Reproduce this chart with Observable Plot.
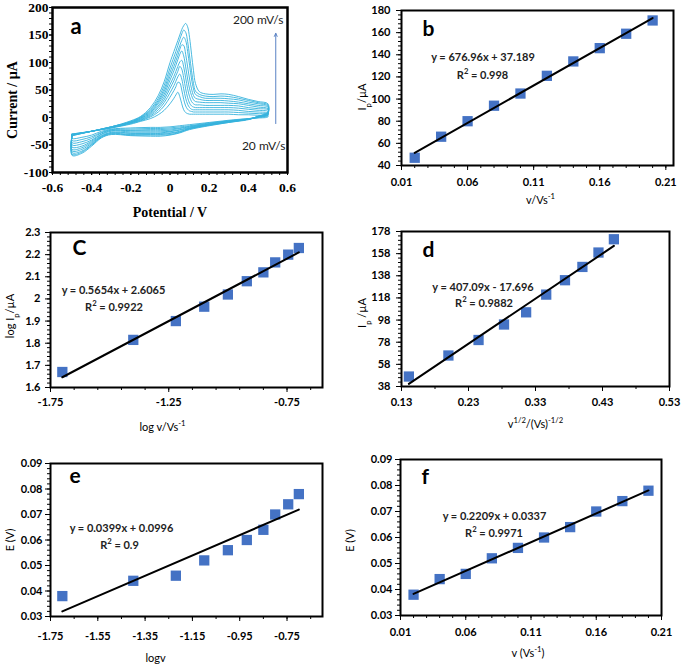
<!DOCTYPE html>
<html><head><meta charset="utf-8">
<script src="https://cdn.jsdelivr.net/npm/d3@7"></script>
<script src="https://cdn.jsdelivr.net/npm/@observablehq/plot@0.6"></script>
<style>
body{margin:0;background:#fff}
#wrap{position:relative;width:685px;height:668px;overflow:hidden;background:#fff}
</style></head><body><div id="wrap"></div>
<script>
// ---------- data ----------
const scanRate = [0.02,0.04,0.06,0.08,0.10,0.12,0.14,0.16,0.18,0.20];
const logScanRate = [-1.70,-1.40,-1.22,-1.10,-1.00,-0.92,-0.85,-0.80,-0.745,-0.70];
const sqrtScanRate = [0.141,0.200,0.245,0.283,0.316,0.346,0.374,0.400,0.424,0.447];
const peakCurrent = [47,66,80,94,105,121,134,146,159,171];
const logPeakCurrent = [1.67,1.815,1.90,1.965,2.02,2.08,2.12,2.165,2.20,2.23];
const peakPotential = [0.038,0.044,0.046,0.052,0.056,0.060,0.064,0.070,0.074,0.078];

const cvForwardE = [-0.5,-0.4,-0.3,-0.2,-0.15,-0.1,-0.06,-0.03,0,0.02,0.03,0.04,0.05,0.06,0.07,0.08,0.09,0.1,0.11,0.12,0.13,0.15,0.18,0.22,0.26,0.3,0.35,0.4,0.45,0.5];
const cvForwardI = [
  [-30,-25,-19,-12,-7,-2,5,13,25,35,41,46,38,25,14,9,7,6,6,6,6,6,6,6,6,6,5,5,4,3],
  [-30,-25,-19,-11,-6,1,10,21,37,49,56,64,63,50,33,21,15,12,11,10,10,10,10,10,10,10,9,8,7,6],
  [-31,-25,-18,-10,-5,3,14,27,45,58,66,74,79,70,52,35,24,18,15,14,14,14,14,14,14,14,13,11,10,8],
  [-31,-25,-18,-10,-4,5,18,32,53,67,76,84,93,88,72,52,36,26,21,19,18,18,18,18,18,18,17,15,13,11],
  [-31,-25,-18,-9,-3,7,21,37,60,75,84,93,101,104,92,72,52,38,29,25,23,23,22,22,22,22,21,18,16,14],
  [-32,-25,-18,-9,-2,9,25,42,68,85,95,105,115,121,112,92,70,52,40,32,29,28,27,27,27,26,25,22,19,16],
  [-32,-25,-17,-8,-1,11,28,47,75,93,103,113,124,132,131,115,92,70,52,40,35,33,31,31,31,30,28,25,22,19],
  [-32,-25,-17,-8,0,13,31,52,82,101,111,121,131,140,146,140,120,95,70,52,42,38,35,35,35,34,32,28,25,21],
  [-33,-25,-17,-7,1,15,35,58,90,110,120,131,142,152,159,155,138,112,85,62,48,42,39,38,39,38,35,31,27,23],
  [-33,-25,-17,-6,2,18,40,65,100,120,130,140,150,160,167,171,165,145,115,85,62,47,43,42,43,42,38,33,29,25]
];
const cvReverseE = [0.5,0.45,0.4,0.3,0.2,0.1,0.05,0,-0.05,-0.1,-0.2,-0.3,-0.35,-0.4,-0.45,-0.5];
const cvReverseI = [
  [1,-1,-2,-5,-9,-13,-15,-17,-18,-18,-19,-21,-25,-32,-36,-38],
  [3,0,-2,-6,-10,-15,-17,-19,-20,-20,-21,-22,-27,-35,-40,-42],
  [4,0,-3,-6,-11,-16,-19,-21,-22,-22,-23,-23,-28,-38,-44,-46],
  [5,1,-3,-7,-12,-17,-20,-23,-24,-24,-24,-24,-30,-41,-48,-50],
  [6,1,-3,-7,-12,-18,-22,-25,-26,-26,-26,-25,-31,-43,-52,-54],
  [7,1,-3,-8,-13,-19,-23,-26,-28,-28,-28,-27,-33,-45,-55,-58],
  [8,2,-3,-8,-13,-20,-25,-28,-29,-29,-29,-28,-34,-47,-58,-61],
  [8,2,-3,-8,-14,-20,-26,-29,-31,-31,-31,-29,-35,-49,-61,-64],
  [9,2,-3,-9,-14,-21,-27,-31,-32,-32,-32,-30,-36,-50,-63,-67],
  [10,2,-4,-9,-15,-22,-28,-32,-34,-34,-33,-31,-37,-52,-65,-69]
];
const arrowA = {x: 0.54, y1: -11, y2: 153};

// tick labels
const ticksA_x = [-0.6,-0.4,-0.2,0,0.2,0.4,0.6];
const ticksA_y = [-100,-50,0,50,100,150,200];
const ticksB_x = [0.01,0.06,0.11,0.16,0.21];
const ticksB_y = [40,60,80,100,120,140,160,180];
const ticksC_x = [-1.75,-1.25,-0.75];
const ticksC_y = [1.6,1.7,1.8,1.9,2.0,2.1,2.2,2.3];
const ticksD_x = [0.13,0.23,0.33,0.43,0.53];
const ticksD_y = [38,58,78,98,118,138,158,178];
const ticksE_x = [-1.75,-1.55,-1.35,-1.15,-0.95,-0.75];
const ticksE_y = [0.03,0.04,0.05,0.06,0.07,0.08,0.09];
const ticksF_x = [0.01,0.06,0.11,0.16,0.21];
const ticksF_y = [0.03,0.04,0.05,0.06,0.07,0.08,0.09];

// ---------- helpers ----------
const wrap = document.getElementById("wrap");
function rich(svg){
  svg.querySelectorAll("text").forEach(t => {
    const s = t.textContent;
    if (!/[\^_]\{/.test(s)) return;
    t.textContent = "";
    const re = /([\^_])\{([^}]*)\}|([^\^_]+)/g;
    let m;
    while ((m = re.exec(s))) {
      const ts = document.createElementNS("http://www.w3.org/2000/svg","tspan");
      if (m[1]) {
        ts.textContent = m[2];
        ts.setAttribute("font-size","70%");
        ts.setAttribute("baseline-shift", m[1] === "^" ? "super" : "sub");
      } else ts.textContent = m[3];
      t.appendChild(ts);
    }
  });
}
function place(svg, left, top, tickWeight){
  svg.style.position = "absolute";
  svg.style.left = left + "px";
  svg.style.top = top + "px";
  wrap.appendChild(svg);
  svg.querySelectorAll('g[aria-label*="axis"] text').forEach(t => { t.style.fontWeight = tickWeight; });
  rich(svg);
}
const f2 = d => d.toFixed(2);
const gen = d => String(+d.toFixed(3));
function chart(o, marks){
  const pw = o.w - o.ml - o.mr, ph = o.h - o.mt - o.mb;
  const kx = (o.xd[1] - o.xd[0]) * 3 / pw;   // 3px outward in data units
  const ky = (o.yd[1] - o.yd[0]) * 3 / ph;
  return Plot.plot({
    width: o.w, height: o.h,
    marginLeft: o.ml, marginRight: o.mr, marginTop: o.mt, marginBottom: o.mb,
    x: {domain: o.xd, ticks: o.xTicks, tickFormat: o.xFmt, tickSize: o.ts, tickPadding: o.xPad, label: null},
    y: {domain: o.yd, ticks: o.yTicks, tickFormat: o.yFmt, tickSize: o.ts, tickPadding: o.yPad, label: null},
    style: {fontFamily: o.font, fontSize: o.fs + "px", fontWeight: o.fw, color: "#000", background: "transparent", overflow: "visible"},
    marks: [
      ...marks,
      Plot.ruleX(o.xMinor, {x: d => d, y1: o.yd[0], y2: o.yd[0] - ky, stroke: "#000", strokeWidth: 1}),
      Plot.ruleY(o.yMinor, {y: d => d, x1: o.xd[0], x2: o.xd[0] - kx, stroke: "#000", strokeWidth: 1}),
      Plot.frame({stroke: "#000", strokeWidth: o.fsw})
    ]
  });
}
const mid = {textAnchor: "middle", lineAnchor: "middle"};
function labels(o){
  return [
    Plot.text([o.xLabel], {...mid, text: d => d, frameAnchor: "bottom", dx: o.xlDx, dy: o.xlDy, fontSize: o.lfs, fontWeight: o.lfw}),
    Plot.text([o.yLabel], {...mid, text: d => d, frameAnchor: "left", dx: o.ylDx, dy: o.ylDy, rotate: -90, fontSize: o.lfs, fontWeight: o.lfw})
  ];
}
function annot(letter, eq, r2, o){
  return [
    Plot.text([letter], {text: d => d, frameAnchor: "top-left", textAnchor: "start", lineAnchor: "middle", dx: o.lx, dy: o.ly, fontSize: 21, fontWeight: "bold", fontFamily: "Lato"}),
    Plot.text([eq], {...mid, text: d => d, frameAnchor: "top-left", dx: o.ex, dy: o.ey, fontSize: 11, fontWeight: "bold", fill: "#222"}),
    Plot.text([r2], {...mid, text: d => d, frameAnchor: "top-left", dx: o.rx, dy: o.ry, fontSize: 11, fontWeight: "bold", fill: "#222"})
  ];
}
function scatterFit(xs, ys){
  const rows = xs.map((x, i) => ({x, y: ys[i]}));
  return [
    Plot.dot(rows, {x: "x", y: "y", symbol: "square", r: 5.8, fill: "#4472c4"}),
    Plot.linearRegressionY(rows, {x: "x", y: "y", ci: 0, stroke: "#000", strokeWidth: 2})
  ];
}
const common = {font: "Lato", fs: 11, fw: "bold", lfs: 11, lfw: "normal", fsw: 2, ts: 5};

// ---------- panel a ----------
const cvRows = [];
cvForwardI.forEach((arr, k) => {
  arr.forEach((I, i) => cvRows.push({k, E: cvForwardE[i], I}));
  cvReverseI[k].forEach((I, i) => cvRows.push({k, E: cvReverseE[i], I}));
  cvRows.push({k, E: cvForwardE[0], I: arr[0]});
});
{
  const o = {w: 342, h: 218, ml: 52, mr: 55, mt: 7, mb: 46, xd: [-0.6, 0.6], yd: [-100, 200],
    xTicks: ticksA_x, yTicks: ticksA_y, xMinor: d3.range(-0.6, 0.601, 0.04), yMinor: d3.range(-100, 201, 10),
    xFmt: gen, yFmt: gen, font: "Liberation Serif", fs: 13.5, fw: "bold", fsw: 2.5, ts: 3, xPad: 7, yPad: 1,
    xLabel: "Potential / V", yLabel: "Current / µA", xlDx: 0, xlDy: 40, ylDx: -40, ylDy: 10, lfs: 14, lfw: "bold"};
  const svg = chart(o, [
    Plot.line(cvRows, {x: "E", y: "I", z: "k", curve: "catmull-rom", stroke: "#36b2dc", strokeWidth: 0.9}),
    Plot.arrow([arrowA], {x1: "x", x2: "x", y1: "y1", y2: "y2", stroke: "#5a82c4", strokeWidth: 1, headLength: 5, headAngle: 50}),
    Plot.text(["a"], {text: d => d, frameAnchor: "top-left", textAnchor: "start", lineAnchor: "middle", dx: 18, dy: 19, fontSize: 22, fontWeight: "bold", fontFamily: "Lato"}),
    Plot.text(["200 mV/s"], {text: d => d, frameAnchor: "top-right", textAnchor: "end", lineAnchor: "middle", dx: -4, dy: 13, fontSize: 12, fontWeight: "normal", fontFamily: "Lato", fill: "#222"}),
    Plot.text(["20 mV/s"], {text: d => d, frameAnchor: "bottom-right", textAnchor: "end", lineAnchor: "middle", dx: -2, dy: -26, fontSize: 12, fontWeight: "normal", fontFamily: "Lato", fill: "#222"}),
    ...labels(o)
  ]);
  place(svg, 0, 0, "bold");
}

// ---------- panel b ----------
{
  const o = {...common, w: 343, h: 215, ml: 59, mr: 12, mt: 10, mb: 50, xd: [0.01, 0.2158], yd: [40, 180],
    xTicks: ticksB_x, yTicks: ticksB_y, xMinor: d3.range(0.01, 0.215, 0.01), yMinor: d3.range(40, 181, 4),
    xFmt: f2, yFmt: gen, xPad: 7.5, yPad: 6,
    xLabel: "v/Vs^{-1}", yLabel: "I_{p}/µA", xlDx: 3, xlDy: 35, ylDx: -39, ylDy: 9};
  const svg = chart(o, [
    ...scatterFit(scanRate, peakCurrent),
    ...annot("b", "y = 676.96x + 37.189", "R^{2} = 0.998", {lx: 21, ly: 19, ex: 81.5, ey: 47, rx: 81, ry: 65}),
    ...labels(o)
  ]);
  place(svg, 342, 0, "bold");
}

// ---------- panel c ----------
{
  const o = {...common, w: 342, h: 222, ml: 50, mr: 20, mt: 14, mb: 53, xd: [-1.75, -0.6], yd: [1.6, 2.3],
    xTicks: ticksC_x, yTicks: ticksC_y, xMinor: d3.range(-1.75, -0.59, 0.1), yMinor: d3.range(1.6, 2.301, 0.02),
    xFmt: f2, yFmt: gen, xPad: 5.5, yPad: 5,
    xLabel: "log v/Vs^{-1}", yLabel: "log I_{p}/µA", xlDx: -24, xlDy: 40, ylDx: -40, ylDy: 6};
  const svg = chart(o, [
    ...scatterFit(logScanRate, logPeakCurrent),
    ...annot("C", "y = 0.5654x + 2.6065", "R^{2} = 0.9922", {lx: 22, ly: 16, ex: 63, ey: 58, rx: 63.5, ry: 75}),
    ...labels(o)
  ]);
  place(svg, 0, 218, "bold");
}

// ---------- panel d ----------
{
  const o = {...common, w: 343, h: 222, ml: 59, mr: 16, mt: 13, mb: 54, xd: [0.13, 0.53], yd: [38, 178],
    xTicks: ticksD_x, yTicks: ticksD_y, xMinor: d3.range(0.13, 0.531, 0.05), yMinor: d3.range(38, 179, 4),
    xFmt: f2, yFmt: gen, xPad: 6.5, yPad: 6,
    xLabel: "v^{1/2}/(Vs)^{-1/2}", yLabel: "I_{p} /µA", xlDx: 0, xlDy: 38, ylDx: -39, ylDy: 4};
  const svg = chart(o, [
    ...scatterFit(sqrtScanRate, peakCurrent),
    ...annot("d", "y = 407.09x - 17.696", "R^{2} = 0.9882", {lx: 21, ly: 19, ex: 81.5, ey: 56, rx: 82.5, ry: 72}),
    ...labels(o)
  ]);
  place(svg, 342, 218, "bold");
}

// ---------- panel e ----------
{
  const o = {...common, w: 342, h: 228, ml: 50, mr: 20, mt: 23, mb: 52, xd: [-1.75, -0.6], yd: [0.03, 0.09],
    xTicks: ticksE_x, yTicks: ticksE_y, xMinor: d3.range(-1.75, -0.59, 0.1), yMinor: d3.range(0.03, 0.0901, 0.002),
    xFmt: f2, yFmt: f2, xPad: 11, yPad: 3,
    xLabel: "logv", yLabel: "E (V)", xlDx: -31, xlDy: 42, ylDx: -40, ylDy: 0};
  const svg = chart(o, [
    ...scatterFit(logScanRate, peakPotential),
    ...annot("e", "y = 0.0399x + 0.0996", "R^{2} = 0.9", {lx: 19, ly: 13, ex: 71, ey: 65, rx: 69, ry: 82}),
    ...labels(o)
  ]);
  place(svg, 0, 440, "bold");
}

// ---------- panel f ----------
{
  const o = {...common, w: 343, h: 228, ml: 58, mr: 24, mt: 19, mb: 53, xd: [0.01, 0.21], yd: [0.03, 0.09],
    xTicks: ticksF_x, yTicks: ticksF_y, xMinor: d3.range(0.01, 0.211, 0.01), yMinor: d3.range(0.03, 0.0901, 0.002),
    xFmt: f2, yFmt: f2, xPad: 7.5, yPad: 3,
    xLabel: "v (Vs^{-1})", yLabel: "E (V)", xlDx: -3, xlDy: 38, ylDx: -50, ylDy: 3};
  const svg = chart(o, [
    ...scatterFit(scanRate, peakPotential),
    ...annot("f", "y = 0.2209x + 0.0337", "R^{2} = 0.9971", {lx: 21, ly: 18, ex: 94, ey: 57, rx: 93.5, ry: 74}),
    ...labels(o)
  ]);
  place(svg, 342, 440, "bold");
}
</script></body></html>
